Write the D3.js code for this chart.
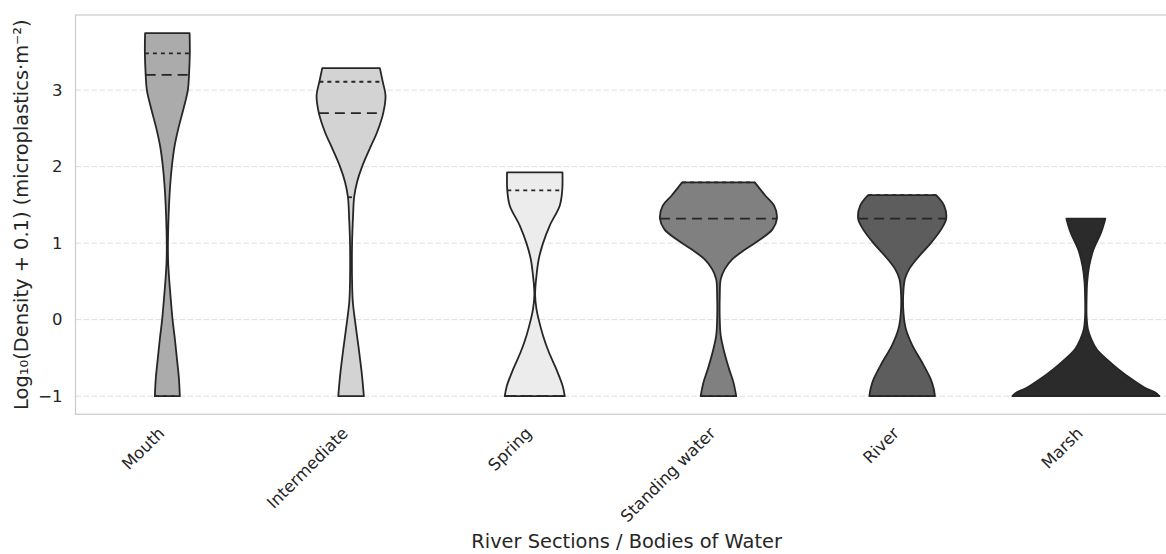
<!DOCTYPE html>
<html>
<head>
<meta charset="utf-8">
<script src="https://cdn.jsdelivr.net/npm/d3@7"></script>
<style>
  body { margin: 0; background: #fff; }
  text { font-family: "DejaVu Sans", sans-serif; fill: #262626; }
</style>
</head>
<body>
<svg id="chart" width="1166" height="554"></svg>
<script>
// categories and colours
const categories = ["Mouth", "Intermediate", "Spring", "Standing water", "River", "Marsh"];
const fills = ["#ababab", "#d3d3d3", "#ececec", "#808080", "#5d5d5d", "#2b2b2b"];

// violin profiles: [log10 value, relative density]
const mouth = [[-1.0, 0.170], [-0.75, 0.156], [-0.5, 0.129], [-0.25, 0.102], [0, 0.071], [0.25, 0.048],
  [0.5, 0.027], [0.75, 0.011], [1.0, 0.008], [1.5, 0.023], [1.75, 0.038], [2.0, 0.061], [2.25, 0.095],
  [2.5, 0.150], [2.75, 0.218], [3.0, 0.279], [3.2, 0.295], [3.5, 0.306], [3.745, 0.303]];
const intermediate = [[-1.0, 0.174], [-0.74, 0.150], [-0.39, 0.106], [0, 0.052], [0.23, 0.024], [0.5, 0.014],
  [1.0, 0.014], [1.35, 0.027], [1.6, 0.042], [1.8, 0.082], [2.0, 0.150], [2.23, 0.252], [2.45, 0.354],
  [2.7, 0.438], [2.93, 0.469], [3.11, 0.431], [3.288, 0.392]];
const spring = [[-1.0, 0.408], [-0.87, 0.381], [-0.65, 0.295], [-0.42, 0.190], [-0.21, 0.113], [0, 0.054],
  [0.14, 0.023], [0.33, 0.005], [0.57, 0.023], [0.79, 0.054], [1.0, 0.113], [1.23, 0.204], [1.49, 0.340],
  [1.69, 0.374], [1.924, 0.377]];
const standing = [[-1.0, 0.242], [-0.82, 0.204], [-0.65, 0.146], [-0.42, 0.078], [-0.21, 0.031], [0, 0.018],
  [0.31, 0.018], [0.53, 0.031], [0.66, 0.086], [0.79, 0.190], [0.92, 0.367], [1.05, 0.571], [1.18, 0.735],
  [1.32, 0.796], [1.49, 0.758], [1.62, 0.639], [1.794, 0.494]];
const river = [[-1.0, 0.446], [-0.9, 0.429], [-0.78, 0.390], [-0.56, 0.272], [-0.34, 0.140], [-0.12, 0.050],
  [0.09, 0.018], [0.31, 0.014], [0.53, 0.037], [0.66, 0.095], [0.83, 0.231], [1.0, 0.390], [1.18, 0.531],
  [1.32, 0.599], [1.49, 0.571], [1.627, 0.463]];
const marsh = [[-1.0, 1.0], [-0.95, 0.939], [-0.89, 0.803], [-0.78, 0.626], [-0.65, 0.445], [-0.52, 0.286],
  [-0.39, 0.150], [-0.25, 0.072], [-0.12, 0.027], [0.05, 0.010], [0.27, 0.010], [0.49, 0.018], [0.70, 0.045],
  [0.92, 0.105], [1.14, 0.208], [1.32, 0.265]];
const profiles = [mouth, intermediate, spring, standing, river, marsh];

// Q1, median, Q3
const quartiles = [[-1, 3.2, 3.48], [1.6, 2.7, 3.11], [-1, -1, 1.69], [-1, 1.32, 1.794], [-1, 1.32, 1.627], [-1, -1, -1]];
const yTicks = [-1, 0, 1, 2, 3];

const svg = d3.select("#chart");
const plotL = 75.5, plotR = 1177.7, plotT = 15, plotB = 414.3;

const x = d3.scaleBand().domain(categories).range([plotL, plotR]);
const lo = d3.min(profiles, p => d3.min(p, d => d[0]));
const hi = d3.max(profiles, p => d3.max(p, d => d[0]));
const pad = (hi - lo) * 0.05;
const y = d3.scaleLinear().domain([lo - pad, hi + pad]).range([plotB, plotT]);
const w = d3.scaleLinear().domain([0, 1]).range([0, x.bandwidth() * 0.4]);

// grid
svg.append("g").selectAll("line")
  .data(yTicks)
  .enter().append("line")
    .attr("x1", plotL).attr("x2", plotR)
    .attr("y1", d => y(d)).attr("y2", d => y(d))
    .attr("stroke", "#dedede")
    .attr("stroke-width", 1)
    .attr("stroke-dasharray", "5.5,2.5");

// violins
categories.forEach((c, i) => {
  const cx = x(c) + x.bandwidth() / 2;
  const area = d3.area()
    .y(d => y(d[0]))
    .x0(d => cx - w(d[1]))
    .x1(d => cx + w(d[1]))
    .curve(d3.curveCatmullRom.alpha(0.5));

  svg.append("path")
    .datum(profiles[i])
    .attr("d", area)
    .attr("fill", fills[i])
    .attr("stroke", "#262626")
    .attr("stroke-width", 1.8)
    .attr("stroke-linejoin", "round");

  const dens = d3.scaleLinear()
    .domain(profiles[i].map(d => d[0]))
    .range(profiles[i].map(d => d[1]));

  svg.append("g").selectAll("line")
    .data(quartiles[i])
    .enter().append("line")
      .attr("x1", d => cx - w(dens(d)))
      .attr("x2", d => cx + w(dens(d)))
      .attr("y1", d => y(d)).attr("y2", d => y(d))
      .attr("stroke", "#262626")
      .attr("stroke-width", 1.8)
      .attr("stroke-dasharray", (d, j) => j === 1 ? "10,6" : "4,4");
});

// frame
svg.append("rect")
  .attr("x", plotL).attr("y", plotT)
  .attr("width", plotR - plotL).attr("height", plotB - plotT)
  .attr("fill", "none")
  .attr("stroke", "#cccccc")
  .attr("stroke-width", 1.25);

// y axis
const gy = svg.append("g")
  .attr("transform", `translate(${plotL},0)`)
  .call(d3.axisLeft(y).tickValues(yTicks).tickSize(0).tickPadding(13).tickFormat(d3.format("d")));
gy.select(".domain").remove();
gy.selectAll("text").attr("font-size", 16.5).attr("font-family", "DejaVu Sans");

// x axis
const gx = svg.append("g")
  .attr("transform", `translate(0,${plotB})`)
  .call(d3.axisBottom(x).tickSize(0));
gx.select(".domain").remove();
gx.selectAll("text")
  .attr("font-size", 16.5)
  .attr("font-family", "DejaVu Sans")
  .attr("text-anchor", "end")
  .attr("x", 0).attr("y", 0).attr("dy", null)
  .attr("transform", "translate(-2,20) rotate(-45)");

// axis titles
svg.append("text")
  .attr("x", (plotL + plotR) / 2)
  .attr("y", 548)
  .attr("text-anchor", "middle")
  .style("font-size", "19.4px")
  .text("River Sections / Bodies of Water");

svg.append("text")
  .attr("transform", `translate(27.5,${(plotT + plotB) / 2}) rotate(-90)`)
  .attr("text-anchor", "middle")
  .style("font-size", "19.4px")
  .text("Log₁₀(Density + 0.1) (microplastics·m⁻²)");
</script>
</body>
</html>
